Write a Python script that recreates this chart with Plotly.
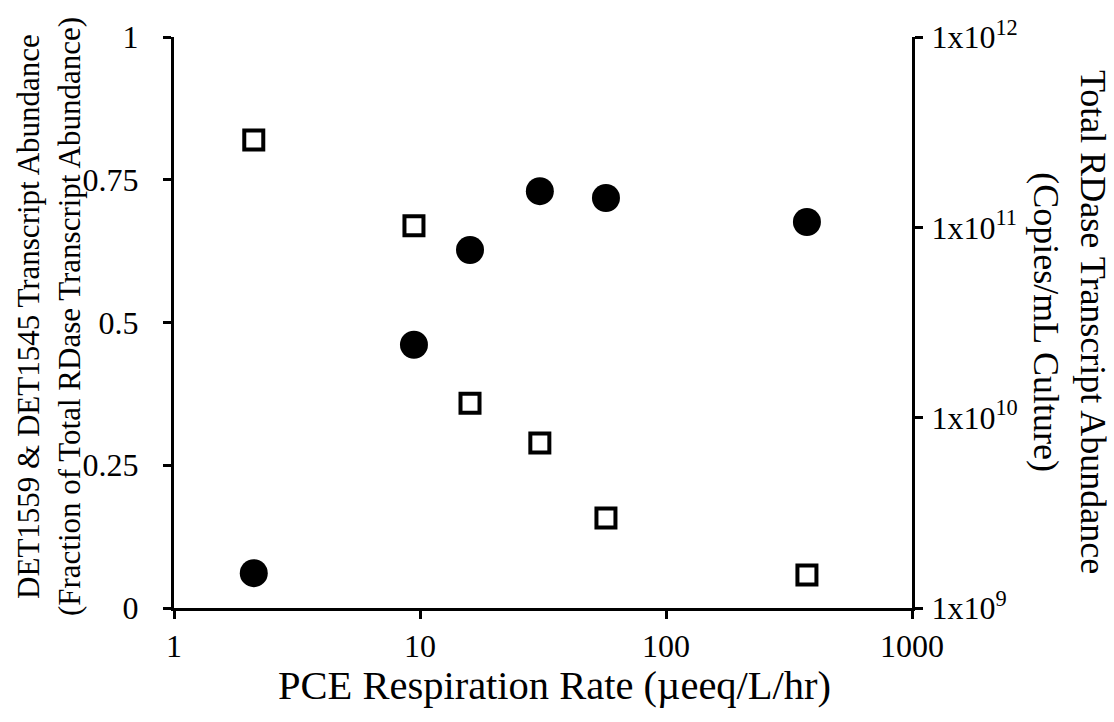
import plotly.graph_objects as go

# Data
rate = [2.11, 9.45, 15.97, 30.7, 57.0, 374.0]          # PCE respiration rate (µeeq/L/hr)
fraction = [0.061, 0.461, 0.627, 0.730, 0.718, 0.676]    # DET1559 & DET1545 fraction (circles)
total_copies = [2.88e11, 1.02e11, 1.19e10, 7.36e9, 2.97e9, 1.49e9]  # Total RDase copies/mL (squares)

x_ticks = [1, 10, 100, 1000]
x_ticktext = ["1", "10", "100", "1000"]
y_ticks = [0, 0.25, 0.5, 0.75, 1]
y_ticktext = ["0", "0.25", "0.5", "0.75", "1"]
y2_ticks = [1e9, 1e10, 1e11, 1e12]
y2_ticktext = ["1x10<sup>9</sup>", "1x10<sup>10</sup>", "1x10<sup>11</sup>", "1x10<sup>12</sup>"]

FONT = "Liberation Serif, Times New Roman, serif"

fig = go.Figure()
fig.add_trace(go.Scatter(
    x=rate, y=fraction, mode="markers", yaxis="y",
    marker=dict(symbol="circle", size=28, color="black", line=dict(width=0)),
    showlegend=False,
))
fig.add_trace(go.Scatter(
    x=rate, y=total_copies, mode="markers", yaxis="y2",
    marker=dict(symbol="square-open", size=19, color="black", line=dict(width=4, color="black")),
    showlegend=False,
))

axis_common = dict(
    showline=True, linewidth=3, linecolor="black", showgrid=False, zeroline=False,
    ticks="outside", ticklen=8, tickwidth=3, tickcolor="black",
    tickfont=dict(family=FONT, size=32, color="black"),
)

fig.update_layout(
    width=1114, height=722,
    margin=dict(l=174, r=202, t=37, b=114),
    paper_bgcolor="white", plot_bgcolor="white",
    font=dict(family=FONT, color="black"),
    xaxis=dict(type="log", range=[0, 3], tickvals=x_ticks, ticktext=x_ticktext, **axis_common),
    yaxis=dict(range=[0, 1], tickvals=y_ticks, ticktext=y_ticktext, ticklabelstandoff=18, **axis_common),
    yaxis2=dict(type="log", range=[9, 12], tickvals=y2_ticks, ticktext=y2_ticktext,
                overlaying="y", side="right", ticklabelstandoff=2, **axis_common),
    annotations=[
        dict(text="PCE Respiration Rate (µeeq/L/hr)", xref="paper", yref="paper",
             x=0.515, y=-0.135, xanchor="center", yanchor="middle", showarrow=False,
             font=dict(family=FONT, size=40.5, color="black")),
        dict(text="DET1559 &amp; DET1545 Transcript Abundance<br>(Fraction of Total RDase Transcript Abundance)",
             xref="paper", yref="paper", x=-0.169, y=0.51, xanchor="center", yanchor="middle",
             textangle=-90, showarrow=False, font=dict(family=FONT, size=31, color="black")),
        dict(text="Total RDase Transcript Abundance<br>(Copies/mL Culture)",
             xref="paper", yref="paper", x=1.2128, y=0.501, xanchor="center", yanchor="middle",
             textangle=90, showarrow=False, font=dict(family=FONT, size=36, color="black")),
    ],
)

fig.write_html("out.html")
